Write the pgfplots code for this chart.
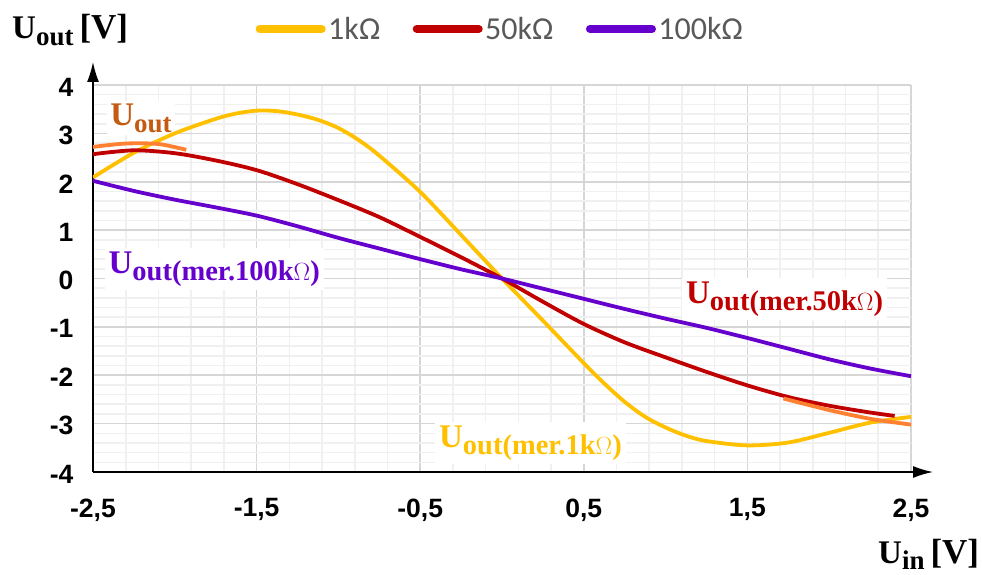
\documentclass[border=0pt]{standalone}
\usepackage{pgfplots}
\pgfplotsset{compat=1.18}
\usepackage{fontspec}
\setmainfont{Liberation Serif}
\newfontfamily\arialfont{Liberation Sans}
\newfontfamily\calfont{Carlito}
\usetikzlibrary{arrows.meta}
\definecolor{cyel}{HTML}{FFC000}
\definecolor{cred}{HTML}{C00000}
\definecolor{cpur}{HTML}{6600CC}
\definecolor{cora}{HTML}{FF8030}
\definecolor{corat}{HTML}{C55A11}
\definecolor{legtxt}{HTML}{595959}
\newcommand{\ulab}[1]{\bfseries{\fontsize{33}{36}\selectfont U}\raisebox{-7pt}{\fontsize{27}{30}\selectfont #1}}
\newcommand{\mlab}[1]{\bfseries{\fontsize{33}{36}\selectfont U}\raisebox{-7pt}{\fontsize{28.5}{30}\selectfont #1}}
\begin{document}
\begin{tikzpicture}
\path[use as bounding box] (-93pt,-102pt) rectangle (889pt,472pt);
\begin{axis}[
  at={(0pt,0pt)}, anchor=south west,
  width=818pt, height=387pt, scale only axis,
  xmin=-2.5, xmax=2.5, ymin=-4, ymax=4,
  axis lines=left,
  axis line style={line width=1.6pt, black},
  x axis line style={-{Latex[length=20pt,width=12pt]}, shorten >=-22pt},
  y axis line style={-{Latex[length=20pt,width=12pt]}, shorten >=-23pt},
  xtick={-2.5,-1.5,-0.5,0.5,1.5,2.5},
  xticklabels={{-2,5},{-1,5},{-0,5},{0,5},{1,5},{2,5}},
  ytick={-4,-3,-2,-1,0,1,2,3,4},
  yticklabels={-4,-3,-2,-1,0,1,2,3,4},
  minor x tick num=4, minor y tick num=4,
  major tick length=0pt, minor tick length=0pt,
  grid=both,
  major grid style={color=black!16, line width=1.6pt},
  minor grid style={color=black!6, line width=1.6pt},
  tick label style={font=\arialfont\bfseries\fontsize{26.5}{28}\selectfont},
  xticklabel style={yshift=-23pt},
  yticklabel style={xshift=-16pt, yshift=-2pt},
  legend style={at={(0.195,1.145)}, anchor=west, draw=none, fill=none,
    legend columns=3, font=\calfont\fontsize{32}{34}\selectfont, text=legtxt,
    nodes={inner sep=2.5pt},
    /tikz/every even column/.append style={column sep=30pt}},
  legend image code/.code={\draw[line width=8pt, line cap=round, #1] (4pt,0pt) -- (66pt,0pt);},
]
% labels with white boxes
\node[anchor=base west, fill=white, inner sep=3pt, text=corat] at (axis cs:-2.414,3.17) {\ulab{out}};
\node[anchor=base west, fill=white, inner sep=4pt, text=cpur] at (axis cs:-2.43,0.11) {\mlab{out(mer.100k$\Omega$)}};
\node[anchor=base west, fill=white, inner sep=4pt, text=cred] at (axis cs:1.10,-0.51) {\mlab{out(mer.50k$\Omega$)}};
\node[anchor=base west, fill=white, inner sep=4pt, text=cyel] at (axis cs:-0.41,-3.49) {\mlab{out(mer.1k$\Omega$)}};

\addplot[cyel, line width=3.8pt, smooth] coordinates {
(-2.5,2.09) (-2.25,2.6) (-2.0,3.0) (-1.75,3.3) (-1.625,3.41) (-1.5,3.47) (-1.375,3.46) (-1.25,3.39)
(-1.125,3.28) (-1.0,3.11) (-0.875,2.86) (-0.75,2.54) (-0.5,1.79) (-0.25,0.9) (0,0) (0.25,-0.87)
(0.5,-1.75) (0.625,-2.17) (0.75,-2.55) (0.875,-2.86) (1.0,-3.08) (1.125,-3.25) (1.25,-3.36) (1.5,-3.45) (1.75,-3.39)
(2.0,-3.19) (2.25,-2.98) (2.5,-2.86)};
\addlegendentry{1kΩ}
\addplot[cred, line width=3.8pt, smooth] coordinates {
(-2.5,2.57) (-2.25,2.65) (-2.0,2.59) (-1.75,2.44) (-1.5,2.24) (-1.25,1.95)
(-1.0,1.62) (-0.75,1.27) (-0.5,0.86) (-0.25,0.44) (0,0) (0.25,-0.48)
(0.5,-0.94) (0.75,-1.32) (1.0,-1.63) (1.25,-1.93) (1.5,-2.21) (1.75,-2.45)
(2.0,-2.63) (2.25,-2.77) (2.4,-2.84)};
\addlegendentry{50kΩ}
\addplot[cpur, line width=3.8pt, smooth] coordinates {
(-2.5,2.02) (-2.25,1.81) (-2.0,1.63) (-1.75,1.47) (-1.5,1.30) (-1.25,1.08)
(-1.0,0.84) (-0.75,0.62) (-0.5,0.40) (-0.25,0.19) (0,0) (0.25,-0.21)
(0.5,-0.42) (0.75,-0.63) (1.0,-0.83) (1.25,-1.02) (1.5,-1.23) (1.75,-1.45)
(2.0,-1.67) (2.25,-1.86) (2.5,-2.02)};
\addlegendentry{100kΩ}
\addplot[cora, line width=3.8pt, smooth, forget plot] coordinates {
(-2.5,2.72) (-2.3,2.79) (-2.1,2.78) (-1.93,2.66)};
\addplot[cora, line width=3.8pt, smooth, forget plot] coordinates {
(1.72,-2.48) (2.0,-2.72) (2.25,-2.9) (2.5,-3.02)};
\end{axis}
\node[anchor=base west, inner sep=0pt] at (-81pt,433pt) {\ulab{out}\hspace{6pt}{\bfseries\fontsize{35}{38}\selectfont[V]}};
\node[anchor=base west, inner sep=0pt] at (785pt,-91pt) {\bfseries{\fontsize{33}{36}\selectfont U}\raisebox{-6pt}{\fontsize{27}{30}\selectfont in}\hspace{6pt}{\bfseries\fontsize{35}{38}\selectfont[V]}};
\end{tikzpicture}
\end{document}
